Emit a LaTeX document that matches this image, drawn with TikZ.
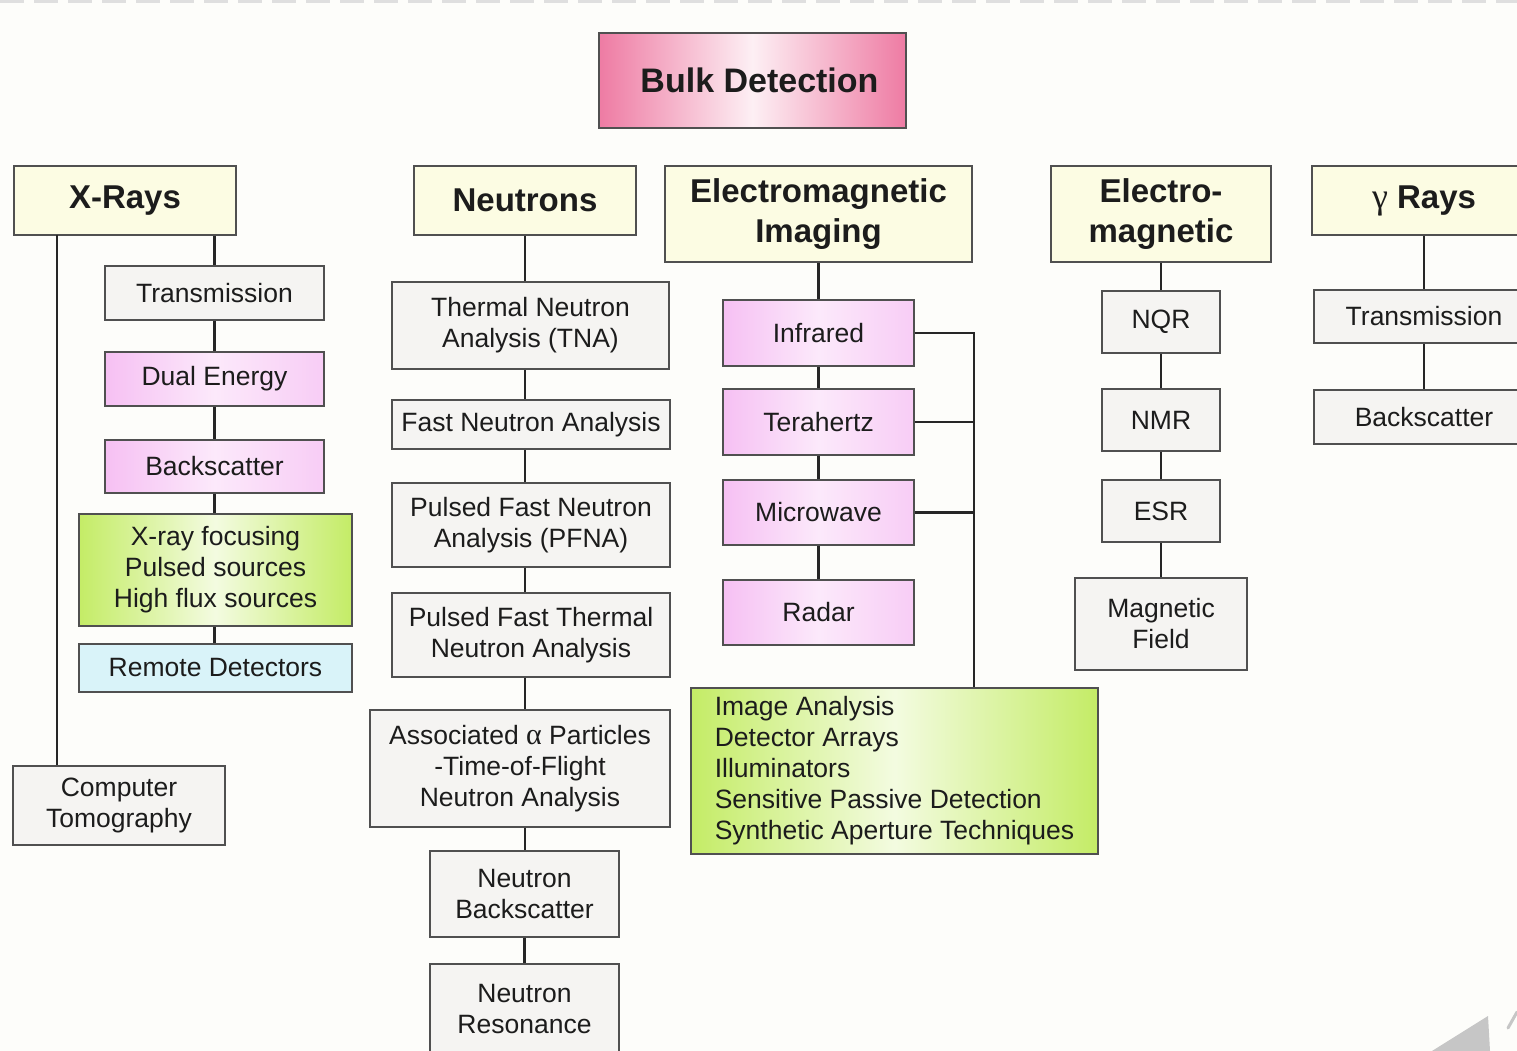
\documentclass[tikz,border=0pt]{standalone}
\usepackage{fontspec}
\setmainfont{Liberation Sans}
\newfontfamily\greekf{Liberation Serif}
\definecolor{bgc}{HTML}{FDFDFA}
\definecolor{headfill}{HTML}{FCFCE3}
\definecolor{grayfill}{HTML}{F5F4F2}
\definecolor{pinkfill}{HTML}{F6C0F3}
\definecolor{cyanfill}{HTML}{D9F3F9}
\definecolor{greenfill}{HTML}{C4EC66}
\definecolor{bulkfill}{HTML}{EE7BA3}
\definecolor{boxline}{HTML}{505050}
\definecolor{connc}{HTML}{262626}
\definecolor{txt}{HTML}{1C1C1C}
\newcommand\bodyfnt{\fontsize{26.5}{31}\selectfont}
\newcommand\headfnt{\fontsize{33}{40}\selectfont\bfseries}
\newcommand\bulkfnt{\fontsize{34}{40}\selectfont\bfseries}
\begin{document}
\begin{tikzpicture}[x=1pt,y=-1pt,
  box/.style={draw=boxline,line width=1.8pt,inner sep=0pt,align=center,text=txt,font=\bodyfnt},
  sz/.style 2 args={minimum width=#1pt,minimum height=#2pt},
  head/.style={box,fill=headfill,font=\headfnt},
  plain/.style={box,fill=grayfill},
  pinkbox/.style={box,left color=pinkfill,right color=pinkfill!80!white,middle color=pinkfill!35!white},
  greenbox/.style={box,left color=greenfill,right color=greenfill,middle color=greenfill!20!white},
  cyanbox/.style={box,fill=cyanfill},
  bulkbox/.style={box,left color=bulkfill,right color=bulkfill,middle color=bulkfill!12!white,font=\bulkfnt},
  conn/.style={draw=connc,line width=2.8pt}]
\clip (0,0) rectangle (1517,1051);
\fill[bgc] (0,0) rectangle (1517,1051);
\draw[gray!25,line width=3pt,dash pattern=on 24pt off 10pt] (0,1.5) -- (1517,1.5);

% top
\node[bulkbox,sz={307}{95}] (bulk) at (752.5,80.5) {\hspace*{14pt}Bulk Detection};

% headings
\node[head,sz={222}{69}] (xr) at (125,200.5) {X-Rays};
\node[head,sz={222}{69}] (nu) at (525,200.5) {Neutrons};
\node[head,sz={307}{96}] (emi) at (818.5,214) {Electromagnetic\\Imaging};
\node[head,sz={220}{96}] (em) at (1161,214) {Electro-\\magnetic};
\node[head,sz={224}{69}] (gr) at (1424,200.5) {{\greekf\mdseries\fontsize{36}{40}\selectfont γ} Rays};

% X-rays column
\node[plain,sz={219}{54}] (xt) at (214.5,293) {Transmission};
\node[pinkbox,sz={219}{54}] (xd) at (214.5,379) {Dual Energy};
\node[pinkbox,sz={219}{53}] (xb) at (214.5,466.5) {Backscatter};
\node[greenbox,sz={273}{112}] (xf) at (215.5,570) {X-ray focusing\\Pulsed sources\\High flux sources};
\node[cyanbox,sz={273}{48}] (xrd) at (215.5,668) {Remote Detectors};
\node[plain,sz={212}{79}] (ct) at (119,805.5) {Computer\\Tomography};
\coordinate (xl) at (57,235);
\draw[conn] (xt.north |- xr.south) -- (xt.north);
\draw[conn] (xt.south) -- (xd.north);
\draw[conn] (xd.south) -- (xb.north);
\draw[conn] (xb.south) -- (xb.south |- xf.north);
\draw[conn] (xb.south |- xf.south) -- (xb.south |- xrd.north);
\draw[conn] (xl) -- (xl |- ct.north);

% Neutrons column
\node[plain,sz={277}{87}] (tna) at (530.5,325.5) {Thermal Neutron\\Analysis (TNA)};
\node[plain,sz={278}{49}] (fna) at (531,424.5) {Fast Neutron Analysis};
\node[plain,sz={278}{84}] (pfna) at (531,525) {Pulsed Fast Neutron\\Analysis (PFNA)};
\node[plain,sz={278}{84}] (pftna) at (531,635) {Pulsed Fast Thermal\\Neutron Analysis};
\node[plain,sz={300}{117}] (apt) at (520,768.5) {Associated {\greekf\fontsize{30}{31}\selectfont α} Particles\\-Time-of-Flight\\Neutron Analysis};
\node[plain,sz={189}{86}] (nb) at (524.5,894) {Neutron\\Backscatter};
\node[plain,sz={189}{90}] (nr) at (524.5,1009) {Neutron\\Resonance};
\coordinate (nx) at (525,0);
\draw[conn] (nx |- nu.south) -- (nx |- tna.north);
\draw[conn] (nx |- tna.south) -- (nx |- fna.north);
\draw[conn] (nx |- fna.south) -- (nx |- pfna.north);
\draw[conn] (nx |- pfna.south) -- (nx |- pftna.north);
\draw[conn] (nx |- pftna.south) -- (nx |- apt.north);
\draw[conn] (nx |- apt.south) -- (nx |- nb.north);
\draw[conn] (nb.south) -- (nr.north);

% EM imaging column
\node[pinkbox,sz={191}{66}] (ir) at (818.5,333) {Infrared};
\node[pinkbox,sz={191}{66}] (th) at (818.5,422) {Terahertz};
\node[pinkbox,sz={191}{65}] (mw) at (818.5,512.5) {Microwave};
\node[pinkbox,sz={191}{65}] (rd) at (818.5,612.5) {Radar};
\node[greenbox,sz={407}{166},align=left] (ia) at (894.5,771) {Image Analysis\\Detector Arrays\\Illuminators\\Sensitive Passive Detection\\Synthetic Aperture Techniques};
\coordinate (bus) at (974,333);
\draw[conn] (emi.south) -- (ir.north);
\draw[conn] (ir.south) -- (th.north);
\draw[conn] (th.south) -- (mw.north);
\draw[conn] (mw.south) -- (rd.north);
\draw[conn] (ir.east) -- (bus) -- (bus |- ia.north);
\draw[conn] (th.east) -- (th.east -| bus);
\draw[conn] (mw.east) -- (mw.east -| bus);

% Electro-magnetic column
\node[plain,sz={118}{62}] (nqr) at (1161,322) {NQR};
\node[plain,sz={118}{62}] (nmr) at (1161,420) {NMR};
\node[plain,sz={118}{62}] (esr) at (1161,511) {ESR};
\node[plain,sz={172}{92}] (mf) at (1161,624) {Magnetic\\Field};
\draw[conn] (em.south) -- (nqr.north);
\draw[conn] (nqr.south) -- (nmr.north);
\draw[conn] (nmr.south) -- (esr.north);
\draw[conn] (esr.south) -- (mf.north);

% gamma rays column
\node[plain,sz={220}{53}] (gt) at (1424,316.5) {Transmission};
\node[plain,sz={220}{54}] (gb) at (1424,417) {Backscatter};
\draw[conn] (gr.south) -- (gt.north);
\draw[conn] (gt.south) -- (gb.north);

% corner watermark
\fill[gray!45] (1432,1051) -- (1488,1016) -- (1490,1051) -- cycle;
\draw[gray!45,line width=3pt,line cap=round] (1508,1028) -- (1517,1012);
\end{tikzpicture}
\end{document}
